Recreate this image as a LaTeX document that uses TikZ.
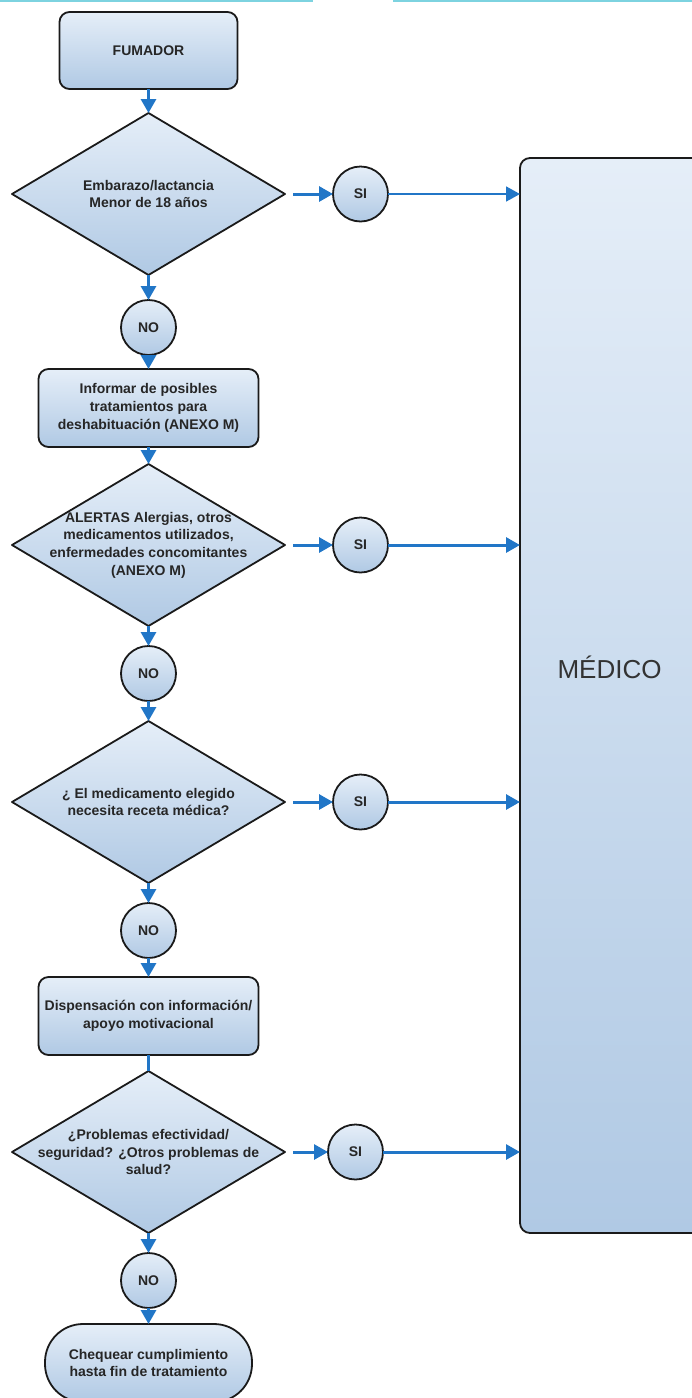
\documentclass[tikz,border=0pt]{standalone}
\usepackage{fontspec}
\setmainfont{Liberation Sans}
\usepackage{tikz}
\usetikzlibrary{arrows.meta, positioning, shapes.geometric}
\definecolor{flowblue}{RGB}{33,118,199}
\definecolor{boxtop}{RGB}{229,238,248}
\definecolor{boxbot}{RGB}{176,201,228}
\definecolor{edge}{RGB}{26,26,26}
\definecolor{toprule}{RGB}{125,211,224}
\newcommand{\flowfont}{\fontsize{14}{17.7}\selectfont\bfseries}

\begin{document}
\begin{tikzpicture}[x=1pt, y=-1pt, font=\flowfont, text=black!85,
   box/.style={draw=edge, line width=1.8pt, rounded corners=10pt, top color=boxtop, bottom color=boxbot,
               minimum width=220pt, minimum height=78pt, align=center, inner sep=2pt, outer sep=0pt},
   dec/.style={draw=edge, line width=1.8pt, shape=diamond, line join=round, top color=boxtop,
               bottom color=boxbot, minimum width=273pt, minimum height=162pt, inner sep=0pt, outer sep=0pt},
   dtxt/.style={align=center, inner sep=0pt},
   ans/.style={draw=edge, line width=1.8pt, circle, top color=boxtop, bottom color=boxbot,
               minimum size=55pt, inner sep=0pt, outer sep=0pt},
   doc/.style={draw=edge, line width=1.8pt, rounded corners=10pt, top color=boxtop, bottom color=boxbot,
               minimum width=182pt, minimum height=1075pt, outer sep=0pt},
   arr/.style={-{Triangle[length=14pt, width=15pt]}, line width=3pt, flowblue}]
  \useasboundingbox (0,0) rectangle (692,1398);
  % thin rule along the top edge
  \draw[toprule, line width=1.5pt] (0,0.8) -- (313,0.8) (393,0.8) -- (692,0.8);
  % main column
  \node[box, minimum width=178pt, minimum height=77pt] (fum) at (148.5,50.5) {FUMADOR};
  \node[dec, below=24pt of fum] (d1) {};
  \node[dtxt] (d1t) at (d1) {Embarazo/lactancia\\Menor de 18 años};
  \node[ans, below=25pt of d1] (no1) {NO};
  \node[box, below=14pt of no1] (info) {Informar de posibles\\tratamientos para\\deshabituación (ANEXO M)};
  \node[dec, below=17pt of info] (d2) {};
  \node[dtxt] (d2t) at (d2) {ALERTAS Alergias, otros\\medicamentos utilizados,\\enfermedades concomitantes\\(ANEXO M)};
  \node[ans, below=20pt of d2] (no2) {NO};
  \node[dec, below=20pt of no2] (d3) {};
  \node[dtxt] (d3t) at (d3) {¿ El medicamento elegido\\necesita receta médica?};
  \node[ans, below=20pt of d3] (no3) {NO};
  \node[box, below=19pt of no3] (disp) {Dispensación con información/\\apoyo motivacional};
  \node[dec, below=16pt of disp] (d4) {};
  \node[dtxt] (d4t) at (d4) {¿Problemas efectividad/\\seguridad? ¿Otros problemas de\\salud?};
  \node[ans, below=20pt of d4] (no4) {NO};
  \node[box, rounded corners=38pt, minimum width=207pt, below=16pt of no4] (fin)
       {Chequear cumplimiento\\hasta fin de tratamiento};
  % SI branch
  \node[ans, right=48pt of d1] (si1) {SI};
  \node[ans, right=48pt of d2] (si2) {SI};
  \node[ans, right=48pt of d3] (si3) {SI};
  \node[ans, right=43pt of d4] (si4) {SI};
  % doctor
  \node[doc] (med) at (611,695.5) {};
  \node[font=\fontsize{26}{30}\selectfont\mdseries, text=black!80] (medt) at (609.5,667) {MÉDICO};
  % connectors
  \foreach \a/\b in {fum/d1, d1/no1, no1/info, info/d2, d2/no2, no2/d3, d3/no3, no3/disp, d4/no4, no4/fin}
    \draw[arr] (\a) -- (\b);
  \draw[flowblue, line width=3pt] (disp) -- (d4);
  \foreach \d/\s in {d1/si1, d2/si2, d3/si3, d4/si4}
    \draw[arr, shorten <=8pt] (\d) -- (\s);
  \draw[arr, line width=1.8pt] (si1) -- (si1 -| med.west);
  \foreach \s in {si2, si3, si4}
    \draw[arr] (\s) -- (\s -| med.west);
\end{tikzpicture}
\end{document}
